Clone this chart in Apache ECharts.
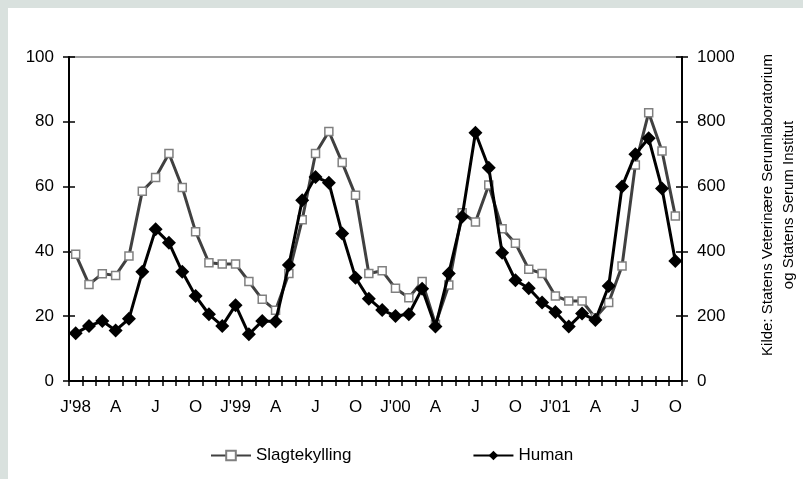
<!DOCTYPE html>
<html>
<head>
<meta charset="utf-8">
<script src="https://cdn.jsdelivr.net/npm/echarts@6/dist/echarts.min.js"></script>
<style>
  html, body { margin: 0; padding: 0; background: #d9e1de; }
  #chart { position: absolute; left: 8px; top: 8px; width: 795px; height: 471px; background: #fff; }
</style>
</head>
<body>
<div id="chart"></div>
<script>
// måneder jan 1998 - okt 2001
const months = [
  "J'98", 'F', 'M', 'A', 'M', 'J', 'J', 'A', 'S', 'O', 'N', 'D',
  "J'99", 'F', 'M', 'A', 'M', 'J', 'J', 'A', 'S', 'O', 'N', 'D',
  "J'00", 'F', 'M', 'A', 'M', 'J', 'J', 'A', 'S', 'O', 'N', 'D',
  "J'01", 'F', 'M', 'A', 'M', 'J', 'J', 'A', 'S', 'O'
]

// Slagtekylling, venstre akse (0-100)
const slagtekylling = [
  39.1, 29.8, 33.1, 32.6, 38.6, 58.6, 62.8, 70.2, 59.7, 46.1, 36.5, 36.1,
  36.1, 30.7, 25.2, 21.8, 33.2, 49.8, 70.2, 77.0, 67.4, 57.3, 33.2, 34.0,
  28.6, 25.7, 30.7, 17.5, 29.6, 51.9, 49.1, 60.5, 47.0, 42.5, 34.5, 33.2,
  26.2, 24.7, 24.7, 19.5, 24.2, 35.5, 66.7, 82.8, 71.0, 50.9
]

// Human, højre akse (0-1000)
const human = [
  147, 170, 185, 156, 192, 337, 468, 427, 337, 262, 206, 170,
  234, 144, 185, 184, 358, 558, 630, 612, 455, 319, 254, 219,
  201, 206, 285, 168, 332, 507, 766, 658, 396, 311, 286, 242,
  213, 168, 208, 188, 293, 600, 700, 749, 594, 370
]

const sourceLines = ['Kilde: Statens Veterinære Serumlaboratorium', 'og Statens Serum Institut']

const font = 'Liberation Sans, Arial, sans-serif'
const chart = echarts.init(document.getElementById('chart'))

const yBase = (pos, max, inside, labels) => ({
  type: 'value',
  position: pos,
  min: 0,
  max: max,
  interval: max / 5,
  axisLine: { show: labels, lineStyle: { color: '#000', width: 2 } },
  axisTick: { show: true, inside: inside, length: 6, lineStyle: { color: '#000', width: 1.5 } },
  axisLabel: {
    show: labels, margin: 15, color: '#000', fontSize: 17, fontFamily: font,
    formatter: v => String(v)
  },
  splitLine: { show: false }
})

const xBase = (inside, labels) => ({
  type: 'category',
  position: 'bottom',
  data: months,
  boundaryGap: true,
  axisLine: { show: labels, lineStyle: { color: '#000', width: 2 } },
  axisTick: { show: true, inside: inside, interval: 0, length: 5, lineStyle: { color: '#000', width: 1.5 } },
  axisLabel: { show: labels, interval: 2, margin: 18, color: '#000', fontSize: 17, fontFamily: font },
  splitLine: { show: false }
})

const option = {
  animation: false,
  grid: {
    left: 61, right: 121, top: 49, bottom: 98,
    show: true, borderColor: '#808080', borderWidth: 1.5, backgroundColor: 'transparent'
  },
  legend: {
    left: 197,
    top: 434,
    itemWidth: 40,
    itemHeight: 12,
    itemGap: 121,
    textStyle: { color: '#000', fontSize: 17, fontFamily: font },
    data: ['Slagtekylling', 'Human']
  },
  xAxis: [xBase(false, true), xBase(true, false)],
  yAxis: [
    yBase('left', 100, false, true),
    yBase('right', 1000, false, true),
    yBase('left', 100, true, false),
    yBase('right', 1000, true, false)
  ],
  series: [
    {
      name: 'Slagtekylling',
      type: 'line',
      yAxisIndex: 0,
      data: slagtekylling,
      symbol: 'rect',
      symbolSize: 8,
      showSymbol: true,
      showAllSymbol: true,
      lineStyle: { color: '#404040', width: 3 },
      itemStyle: { color: '#fff', borderColor: '#808080', borderWidth: 1.5 },
      z: 2
    },
    {
      name: 'Human',
      type: 'line',
      yAxisIndex: 1,
      data: human,
      symbol: 'diamond',
      symbolSize: 14,
      showSymbol: true,
      showAllSymbol: true,
      lineStyle: { color: '#000', width: 3 },
      itemStyle: { color: '#000' },
      z: 3
    }
  ],
  graphic: sourceLines.map((t, i) => ({
    type: 'text',
    x: 760 + i * 21,
    y: 197,
    rotation: Math.PI / 2,
    silent: true,
    style: {
      text: t,
      fill: '#000',
      fontSize: 15,
      fontFamily: font,
      textAlign: 'center',
      textVerticalAlign: 'middle'
    }
  }))
}

chart.setOption(option)
</script>
</body>
</html>
